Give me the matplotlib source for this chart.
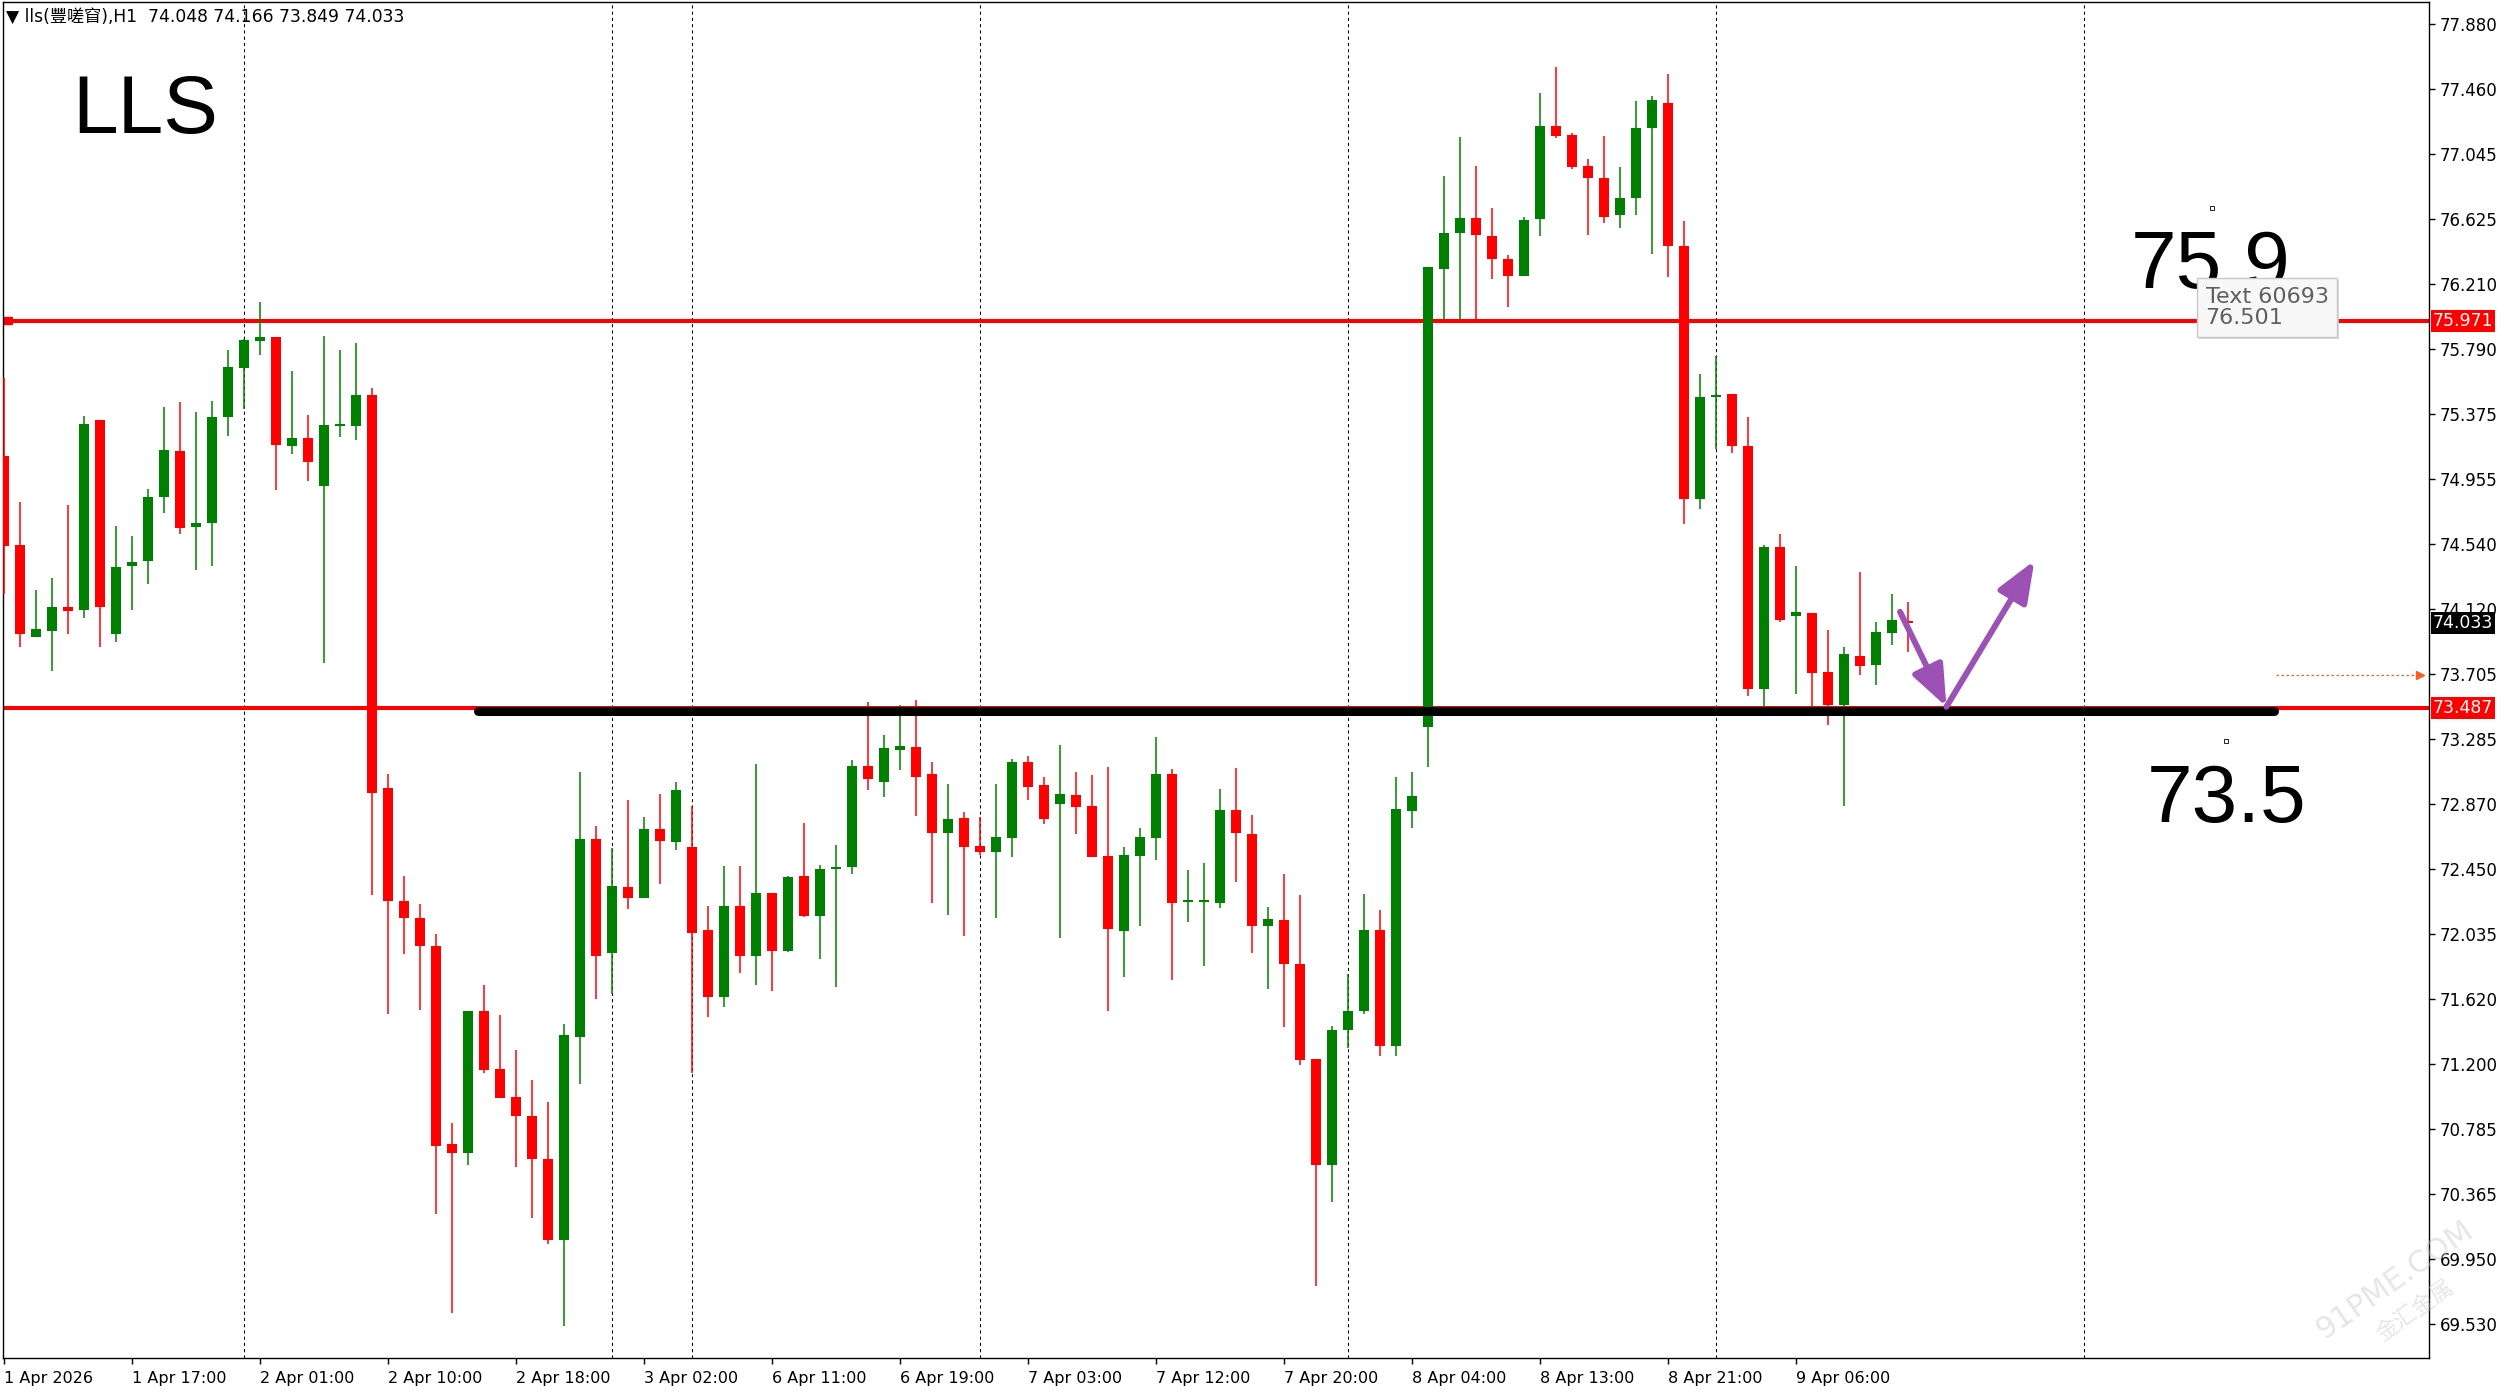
import matplotlib
matplotlib.use("Agg")
import matplotlib.pyplot as plt
from matplotlib.patches import FancyArrowPatch, ArrowStyle
import numpy as np

# ---------------- data ----------------
opens = [75.107, 74.533, 73.946, 73.984, 74.136, 74.117, 75.338, 73.965, 74.401, 74.432,
         74.842, 75.136, 74.647, 74.672, 75.353, 75.672, 75.846, 75.871, 75.171, 75.221,
         74.912, 75.297, 75.297, 75.499, 72.971, 72.248, 72.140, 71.959, 70.688, 70.631,
         71.542, 71.169, 70.988, 70.867, 70.593, 70.072, 71.377, 72.645, 71.915, 72.337,
         72.267, 72.710, 72.624, 72.591, 72.059, 71.634, 72.218, 71.896, 72.297, 71.929,
         72.408, 72.153, 72.455, 72.468, 73.115, 73.014, 73.217, 73.237, 73.063, 72.686,
         72.781, 72.601, 72.562, 72.654, 73.140, 72.993, 72.873, 72.926, 72.858, 72.537,
         72.057, 72.539, 72.654, 73.063, 72.240, 72.240, 72.232, 72.831, 72.676, 72.087,
         72.124, 71.845, 71.231, 70.549, 71.417, 71.540, 72.062, 71.313, 72.825, 73.367,
         76.309, 76.536, 76.634, 76.521, 76.371, 76.263, 76.625, 77.224, 77.167, 76.968,
         76.890, 76.656, 76.760, 77.211, 77.372, 76.457, 74.827, 75.483, 75.502, 75.167,
         73.606, 74.520, 74.076, 74.095, 73.716, 73.508, 73.823, 73.760, 73.968, 74.048]
highs = [75.606, 74.808, 74.243, 74.325, 74.792, 75.360, 75.338, 74.653, 74.590, 74.896,
         75.423, 75.454, 75.391, 75.458, 75.786, 75.860, 76.095, 75.871, 75.653, 75.369,
         75.877, 75.789, 75.833, 75.543, 73.060, 72.410, 72.229, 72.037, 70.823, 71.542,
         71.710, 71.515, 71.288, 71.099, 70.958, 71.456, 73.078, 72.729, 72.586, 72.897,
         72.788, 72.932, 73.013, 72.856, 72.215, 72.472, 72.472, 73.126, 72.301, 72.408,
         72.746, 72.479, 72.607, 73.153, 73.526, 73.314, 73.506, 73.539, 73.142, 72.999,
         72.819, 72.789, 72.999, 73.162, 73.179, 73.046, 73.250, 73.078, 73.057, 73.106,
         72.592, 72.716, 73.299, 73.094, 72.449, 72.490, 72.965, 73.104, 72.800, 72.211,
         72.423, 72.284, 71.231, 71.443, 71.778, 72.294, 72.191, 73.042, 73.078, 76.320,
         76.903, 77.156, 76.965, 76.696, 76.397, 76.640, 77.435, 77.603, 77.183, 77.013,
         77.161, 76.962, 77.388, 77.420, 77.562, 76.615, 75.631, 75.748, 75.502, 75.356,
         74.533, 74.606, 74.401, 74.095, 73.990, 73.880, 74.360, 74.038, 74.218, 74.166]
lows = [74.218, 73.877, 73.946, 73.726, 73.965, 74.066, 73.877, 73.909, 74.114, 74.281,
        74.741, 74.606, 74.375, 74.398, 75.234, 75.407, 75.757, 74.890, 75.120, 74.943,
        73.776, 75.227, 75.208, 72.284, 71.520, 71.910, 71.545, 70.239, 69.599, 70.553,
        71.140, 70.983, 70.539, 70.212, 70.045, 69.518, 71.072, 71.621, 71.653, 72.199,
        72.267, 72.356, 72.578, 71.145, 71.504, 71.564, 71.788, 71.707, 71.670, 71.922,
        72.143, 71.873, 71.693, 72.419, 72.960, 72.913, 73.089, 72.793, 72.233, 72.158,
        72.023, 72.543, 72.136, 72.530, 72.896, 72.742, 72.012, 72.678, 72.532, 71.541,
        71.762, 72.087, 72.511, 71.742, 72.113, 71.829, 72.201, 72.371, 71.912, 71.685,
        71.437, 71.195, 69.775, 70.317, 71.303, 71.520, 71.251, 71.251, 72.717, 73.109,
        75.984, 75.984, 75.984, 76.242, 76.061, 76.263, 76.520, 77.151, 76.950, 76.524,
        76.599, 76.571, 76.656, 76.404, 76.256, 74.669, 74.763, 75.151, 75.126, 73.561,
        73.501, 74.038, 73.580, 73.486, 73.375, 72.855, 73.700, 73.637, 73.889, 73.849]
closes = [74.527, 73.965, 73.997, 74.136, 74.107, 75.309, 74.136, 74.394, 74.426, 74.842,
          75.142, 74.640, 74.678, 75.357, 75.675, 75.849, 75.871, 75.174, 75.221, 75.070,
          75.303, 75.309, 75.499, 72.940, 72.246, 72.140, 71.956, 70.677, 70.631, 71.542,
          71.164, 70.983, 70.864, 70.588, 70.072, 71.388, 72.645, 71.896, 72.342, 72.269,
          72.710, 72.632, 72.959, 72.040, 71.629, 72.218, 71.891, 72.297, 71.929, 72.402,
          72.153, 72.453, 72.460, 73.115, 73.033, 73.230, 73.243, 73.044, 72.686, 72.774,
          72.596, 72.562, 72.659, 73.140, 72.982, 72.776, 72.933, 72.853, 72.532, 72.066,
          72.543, 72.659, 73.063, 72.232, 72.245, 72.245, 72.831, 72.681, 72.087, 72.129,
          71.840, 71.226, 70.549, 71.417, 71.540, 72.062, 71.313, 72.836, 72.923, 76.320,
          76.536, 76.634, 76.526, 76.371, 76.263, 76.624, 77.224, 77.161, 76.962, 76.893,
          76.640, 76.763, 77.211, 77.394, 76.457, 74.827, 75.483, 75.490, 75.167, 73.612,
          74.520, 74.054, 74.101, 73.713, 73.508, 73.833, 73.754, 73.975, 74.053, 74.033]

date_labels = ["1 Apr 2026", "1 Apr 17:00", "2 Apr 01:00", "2 Apr 10:00", "2 Apr 18:00",
               "3 Apr 02:00", "6 Apr 11:00", "6 Apr 19:00", "7 Apr 03:00", "7 Apr 12:00",
               "7 Apr 20:00", "8 Apr 04:00", "8 Apr 13:00", "8 Apr 21:00", "9 Apr 06:00"]
date_label_bars = [0, 8, 16, 24, 32, 40, 48, 56, 64, 72, 80, 88, 96, 104, 112]
day_separator_bars = [15, 38, 43, 61, 84, 107, 130]
price_ticks = [77.880, 77.460, 77.045, 76.625, 76.210, 75.790, 75.375, 74.955, 74.540,
               74.120, 73.705, 73.285, 72.870, 72.450, 72.035, 71.620, 71.200, 70.785,
               70.365, 69.950, 69.530]
resistance = 75.971
support = 73.487
support_zone = 73.467
last_price = 74.033
ask_level = 73.70

# ---------------- figure ----------------
W, H = 2511, 1392
fig = plt.figure(figsize=(W / 100, H / 100), dpi=100)
fig.patch.set_facecolor("white")
ax = fig.add_axes([3 / W, (H - 1358) / H, (2429 - 3) / W, (1358 - 2) / H])
ax.set_facecolor("white")

x_left = (3 - 4) / 16
x_right = (2429 - 4) / 16
y_top = 77.880 + (24 - 2) / 155.7
y_bot = 77.880 - (1358 - 24) / 155.7
ax.set_xlim(x_left, x_right)
ax.set_ylim(y_bot, y_top)

RED = "#ff0000"
GREEN = "#008000"

# day separators
for b in day_separator_bars:
    ax.axvline(b, color="black", lw=0.75, ls=(0, (3, 3)), zorder=1)

# horizontal levels
ax.axhline(resistance, color=RED, lw=2.9, zorder=2)
ax.axhline(support, color=RED, lw=2.9, zorder=2)
ax.plot([x_left + 0.05, x_left + 0.6], [resistance, resistance], color=RED, lw=6,
        solid_capstyle="butt", zorder=2)

# candles
n = len(opens)
xs = np.arange(n)
o = np.array(opens); c = np.array(closes); h = np.array(highs); l = np.array(lows)
up = c >= o
colors = np.where(up, GREEN, RED)
ax.vlines(xs, l, h, colors=colors, lw=1.1, zorder=3)
body_bottom = np.minimum(o, c)
body_h = np.maximum(np.abs(c - o), 0.012)
ax.bar(xs, body_h, bottom=body_bottom, width=0.67, color=colors, edgecolor="none",
       zorder=4)

# thick black support zone line
ax.plot([29.6, 141.9], [support_zone, support_zone], color="black", lw=6.5,
        solid_capstyle="round", zorder=5)

# ask dotted line with arrow
ax.plot([142.0, 151.0], [ask_level, ask_level], color="#ff5a1f", lw=0.9,
        ls=(0, (2, 2)), zorder=5)
ax.plot([151.0], [ask_level], marker=">", color="#ff5a1f", markersize=6, zorder=5)

# purple arrows
purple = "#9c52b4"
for start, end in [((118.5, 74.105), (121.4, 73.495)), ((121.4, 73.495), (126.9, 74.433))]:
    ax.add_patch(FancyArrowPatch(start, end,
                                 arrowstyle=ArrowStyle("-|>", head_length=1.25, head_width=0.5),
                                 mutation_scale=20, lw=4.3, color=purple, capstyle="round",
                                 shrinkA=0, shrinkB=0, zorder=6))

# big texts
big_font = dict(family="Liberation Sans", fontsize=59, color="black")
ax.text(4.25, 77.18, "LLS", ha="left", va="baseline", zorder=7, **big_font)
ax.text(132.9, 76.184, "75.9", ha="left", va="baseline", zorder=7, **big_font)
ax.text(133.9, 72.755, "73.5", ha="left", va="baseline", zorder=7, **big_font)
ax.plot([138.0, 138.9], [76.698, 73.275], ls="none", marker="s", markersize=2.5,
        markerfacecolor="white", markeredgecolor="black", markeredgewidth=0.6, zorder=7)

# tooltip (with a soft shadow)
tip_txt = "Text 60693\n76.501"
ax.text(137.72, 76.045, tip_txt, ha="left", va="center", fontsize=16,
        family="DejaVu Sans", color=(0, 0, 0, 0), linespacing=1.1, zorder=7.9,
        bbox=dict(boxstyle="square,pad=0.38", fc="#d0d0d0", ec="none", alpha=0.8))
ax.text(137.6, 76.06, tip_txt, ha="left", va="center", fontsize=16,
        family="DejaVu Sans", color="#5f5f5f", linespacing=1.1, zorder=8,
        bbox=dict(boxstyle="square,pad=0.38", fc="#f7f7f7", ec="#c8c8c8", lw=1.0))

# ---------------- axes styling ----------------
for s in ax.spines.values():
    s.set_color("black")
    s.set_linewidth(1.0)

ax.yaxis.tick_right()
ax.set_yticks(price_ticks)
ax.set_yticklabels([f"{v:.3f}" for v in price_ticks])
ax.tick_params(axis="y", direction="out", length=4, width=1, pad=4, labelsize=12,
               colors="black")
ax.set_xticks(date_label_bars)
ax.set_xticklabels(date_labels, ha="left")
ax.tick_params(axis="x", direction="out", length=4, width=1, pad=5, labelsize=11.5,
               colors="black")
for lab in ax.get_xticklabels():
    lab.set_horizontalalignment("left")

# right-side price boxes
def price_box(y, txt, fc):
    ax.text(1.0015, y, txt, transform=ax.get_yaxis_transform(), ha="left",
            va="center", fontsize=12.5, color="white", zorder=10, clip_on=False,
            bbox=dict(boxstyle="square,pad=0.12", fc=fc, ec="none"))

price_box(resistance, f"{resistance:.3f}", RED)
price_box(support, f"{support:.3f}", RED)
price_box(last_price, f"{last_price:.3f}", "black")

# header
fig.text(6 / W, 1 - 17 / H, "▼ lls(豐嗟窅),H1  74.048 74.166 73.849 74.033",
         ha="left", va="center", fontsize=12.3,
         family=["DejaVu Sans", "Noto Sans CJK SC"], color="black")

# faint watermark
fig.text(2395 / W, 1 - 1280 / H, "91PME.COM", rotation=35, fontsize=22,
         color="#c8c8c8", alpha=0.45, ha="center", va="center", family="DejaVu Sans")
fig.text(2415 / W, 1 - 1310 / H, "金汇金属", rotation=35, fontsize=16,
         color="#c8c8c8", alpha=0.45, ha="center", va="center",
         family=["Noto Sans CJK SC", "DejaVu Sans"])

fig.savefig("out.png", dpi=100, facecolor="white")
